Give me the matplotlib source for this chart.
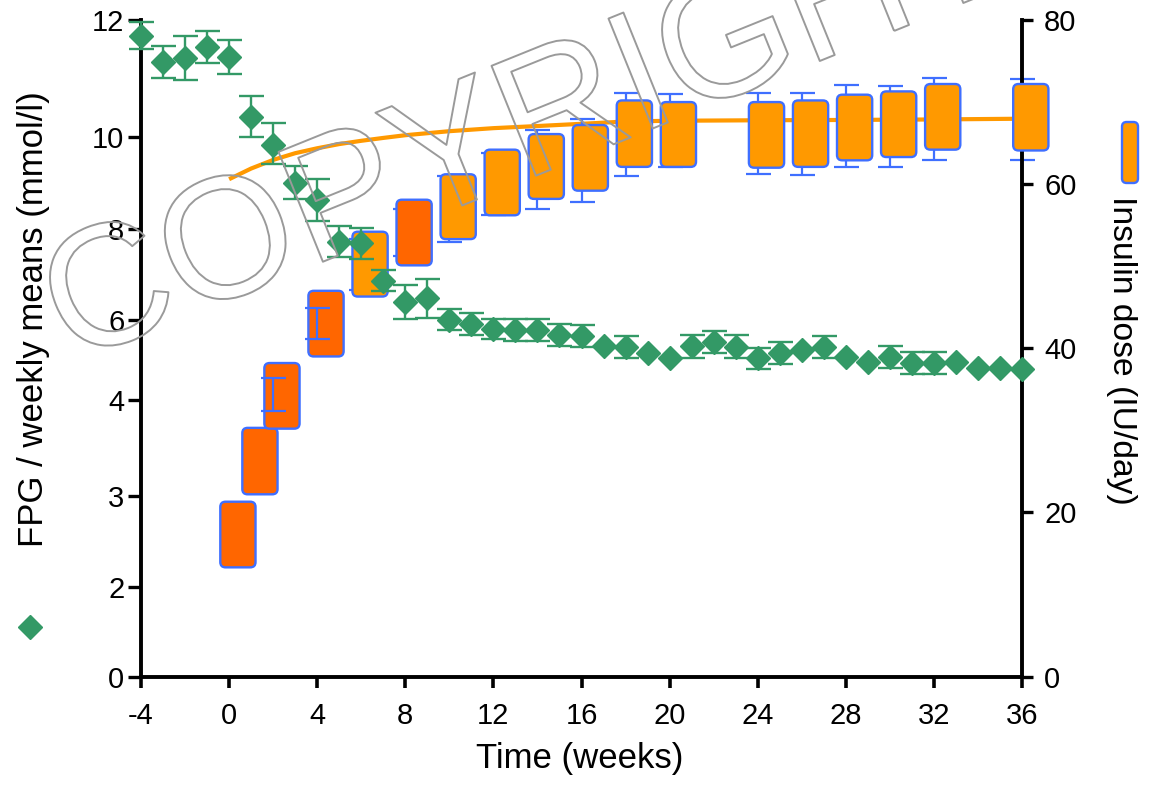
import numpy as np
import matplotlib
matplotlib.use("Agg")
import matplotlib.pyplot as plt
from matplotlib.patches import FancyBboxPatch
from matplotlib.lines import Line2D
import matplotlib.patheffects as pe

plt.rcParams['font.family'] = ['Liberation Sans', 'DejaVu Sans']

# ---------------- data ----------------
fpg_weeks = list(range(-4, 37))
fpg_mean = [11.73, 11.28, 11.35, 11.54, 11.36, 10.34, 9.82, 9.01, 8.63, 7.73,
            7.69, 6.87, 6.40, 6.48, 6.00, 5.89, 5.77, 5.75, 5.75, 5.63,
            5.60, 5.35, 5.32, 5.18, 5.04, 5.34, 5.46, 5.33, 5.04, 5.18,
            5.25, 5.33, 5.08, 4.96, 5.08, 4.93, 4.93, 4.96, 4.79, 4.79, 4.77]
nan = float('nan')
fpg_sem = [0.23, 0.27, 0.38, 0.28, 0.29, 0.35, 0.42, 0.36, 0.46, 0.35,
           0.34, 0.23, 0.37, 0.43, 0.25, 0.26, 0.25, 0.27, 0.27, 0.28,
           0.27, nan, 0.28, nan, nan, 0.28, 0.275, 0.29, 0.27, 0.275,
           nan, 0.28, nan, nan, 0.28, 0.275, 0.275, nan, nan, nan, nan]

# left axis tick labels (the axis is drawn with unequal spacing)
fpg_tick_values = [0, 2, 3, 4, 6, 8, 10, 12]
fpg_tick_fracs = [0.0, 0.1363, 0.2749, 0.4212, 0.5430, 0.6812, 0.8222, 1.0]

dose_weeks = [0, 1, 2, 4, 6, 8, 10, 12, 14, 16, 18, 20, 24, 26, 28, 30, 32, 36]
dose_low = [13.3, 22.2, 30.2, 39.0, 46.3, 50.1, 53.3, 56.2, 58.2, 59.2,
            62.1, 62.1, 62.0, 62.1, 62.9, 63.3, 64.2, 64.1]
dose_high = [21.3, 30.3, 38.2, 47.0, 54.2, 58.1, 61.2, 64.2, 66.1, 67.2,
             70.2, 70.0, 70.0, 70.2, 70.9, 71.3, 72.2, 72.2]
dose_err_low = [nan, nan, 32.4, 41.1, 47.1, 51.2, 53.0, 56.2, 57.0, 57.8,
                61.0, 62.1, 61.2, 61.1, 62.1, 62.1, 63.0, 62.9]
dose_err_high = [nan, nan, 36.4, 44.9, 53.3, 57.0, 61.0, 63.8, 66.6, 67.9,
                 71.1, 71.0, 71.1, 71.1, 72.1, 72.0, 72.9, 72.8]
dose_phase = ['A', 'A', 'A', 'A', 'B', 'A', 'B', 'B', 'B', 'B',
              'B', 'B', 'B', 'B', 'B', 'B', 'B', 'B']

fit_weeks = [0, 1, 2, 3, 4, 5, 6, 7, 8, 10, 12, 14, 16, 18, 20, 24, 28, 32, 36]
fit_dose = [60.6, 61.9, 62.95, 63.77, 64.37, 64.88, 65.28, 65.63, 65.96, 66.45,
            66.82, 67.08, 67.35, 67.63, 67.72, 67.78, 67.82, 67.88, 67.97]

x_ticks = list(range(-4, 37, 4))
dose_ticks = [0, 20, 40, 60, 80]

# ---------------- style ----------------
GREEN = '#339966'
LIGHT = '#FF9900'
DARK = '#FF6600'
BLUE = '#3F6FFF'
phase_color = {'A': DARK, 'B': LIGHT}
errbar_front_weeks = [2, 4]

W, H = 1153, 792
fig = plt.figure(figsize=(W / 100, H / 100), dpi=100)
L, R, T, B = 141, 1022, 20, 676.5
ax = fig.add_axes([L / W, 1 - B / H, (R - L) / W, (B - T) / H])
ax2 = ax.twinx()
ax.set_zorder(ax2.get_zorder() + 1)
ax.patch.set_visible(False)


def fwd(v):
    return np.interp(v, fpg_tick_values, fpg_tick_fracs)


def inv(f):
    return np.interp(f, fpg_tick_fracs, fpg_tick_values)


ax.set_yscale('function', functions=(fwd, inv))
ax.set_ylim(0, 12)
ax.set_xlim(-4, 36)
ax2.set_ylim(0, 80)

# spines
for a in (ax, ax2):
    a.spines['top'].set_visible(False)
ax.spines['right'].set_visible(False)
ax2.spines['left'].set_visible(False)
ax2.spines['bottom'].set_visible(False)
for s in ('left', 'bottom'):
    ax.spines[s].set_linewidth(2.8)
ax2.spines['right'].set_linewidth(2.8)

ax.set_xticks(x_ticks)
ax.set_xticklabels([str(t) for t in x_ticks])
ax.set_yticks(fpg_tick_values)
ax.set_yticklabels([str(t) for t in fpg_tick_values])
ax.yaxis.set_minor_locator(matplotlib.ticker.NullLocator())
ax2.set_yticks(dose_ticks)
ax2.set_yticklabels([str(t) for t in dose_ticks])

ax.tick_params(axis='x', direction='out', length=8, width=2.6, labelsize=21, pad=10)
ax.tick_params(axis='y', direction='out', length=9.5, width=2.4, labelsize=21, pad=2.5)
ax2.tick_params(axis='y', direction='out', length=8, width=2.4, labelsize=21, pad=8)

# orange fitted dose curve (behind boxes)
ax2.plot(fit_weeks, fit_dose, color=LIGHT, lw=3.0, zorder=1, solid_capstyle='butt')

# insulin dose boxes
px_x = (R - L) / 40.0
px_y = (B - T) / 80.0
aspect = px_x / px_y
x_off, box_w = 0.4, 1.6
for wk, lo, hi, ph, el, eh in zip(dose_weeks, dose_low, dose_high, dose_phase,
                                   dose_err_low, dose_err_high):
    p = FancyBboxPatch((wk + x_off - box_w / 2, lo), box_w, hi - lo,
                       boxstyle='round,pad=0,rounding_size=0.24',
                       mutation_aspect=aspect, fc=phase_color[ph], ec=BLUE,
                       lw=1.7, zorder=3, clip_on=False)
    ax2.add_patch(p)
    if not (np.isnan(el) or np.isnan(eh)):
        mid = (el + eh) / 2
        z = 4 if wk in errbar_front_weeks else 2
        ax2.errorbar([wk], [mid], yerr=[[mid - el], [eh - mid]], fmt='none',
                     ecolor=BLUE, elinewidth=1.6, capsize=9, capthick=1.6,
                     zorder=z, clip_on=False)

# FPG weekly means
fw = [w for w, s in zip(fpg_weeks, fpg_sem) if not np.isnan(s)]
fm = [m for m, s in zip(fpg_mean, fpg_sem) if not np.isnan(s)]
fs = [s for s in fpg_sem if not np.isnan(s)]
eb = ax.errorbar(fw, fm, yerr=fs, fmt='none', ecolor=GREEN, elinewidth=1.7,
                 capsize=9, capthick=1.7, zorder=3)
for art in list(eb.lines[1]) + list(eb.lines[2]):
    art.set_clip_on(False)
ax.plot(fpg_weeks, fpg_mean, linestyle='none', marker='D', ms=12.5, color=GREEN,
        mec=GREEN, mew=1.0, zorder=4, clip_on=False)

# axis labels
fig.text(580 / W, 1 - 768 / H, 'Time (weeks)', fontsize=25, ha='center', va='baseline')
fig.text(43 / W, 1 - 547 / H, 'FPG / weekly means (mmol/l)', fontsize=25,
         rotation=90, rotation_mode='anchor', ha='left', va='baseline')
fig.text(1113 / W, 1 - 196 / H, 'Insulin dose (IU/day)', fontsize=24.2,
         rotation=-90, rotation_mode='anchor', ha='left', va='baseline')

# legend symbols next to axis titles
fig.add_artist(Line2D([30 / W], [1 - 627 / H], transform=fig.transFigure,
                      linestyle='none', marker='D', ms=12.5, color=GREEN, mew=1.0))
leg_box = FancyBboxPatch((1122 / W, 1 - 183 / H), 16 / W, 61 / H,
                         boxstyle='round,pad=0,rounding_size=0.004',
                         mutation_aspect=W / H, transform=fig.transFigure,
                         fc=LIGHT, ec=BLUE, lw=1.7)
fig.add_artist(leg_box)

# watermark
fig.text(545 / W, 1 - 172 / H, 'COPYRIGHT', fontsize=124, rotation=22,
         rotation_mode='anchor', ha='center', va='baseline', color='none',
         path_effects=[pe.Stroke(linewidth=1.4, foreground='#9a9a9a')], zorder=10)

fig.savefig('out.png', dpi=100)
